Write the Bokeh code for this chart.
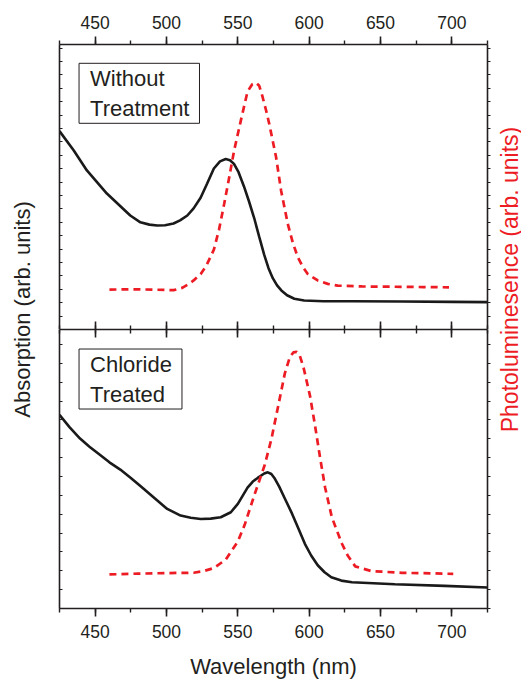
import math
from bokeh.plotting import figure
from bokeh.layouts import row, column
from bokeh.models import Range1d, LinearAxis, SingleIntervalTicker, Label
from bokeh.embed import file_html
from bokeh.resources import INLINE

# ---------------- data ----------------
# Top panel: Without Treatment
abs_top_nm = [425, 435, 444.2, 458.2, 474.6, 481.7, 488, 493.5, 499, 504.9, 509.5, 514.6, 519, 523.9,
              528.5, 533.2, 537.5, 541.5, 544.5, 547.3, 550.5, 554.3, 557.8, 561.4, 565, 568.5, 571.5,
              574.5, 577.5, 580.5, 584.5, 589.6, 596.5, 610, 630, 665, 700, 725]
abs_top_val = [0.696, 0.628, 0.558, 0.477, 0.400, 0.376, 0.368, 0.365, 0.366, 0.372, 0.383, 0.400, 0.425, 0.462,
               0.512, 0.565, 0.590, 0.598, 0.594, 0.581, 0.552, 0.502, 0.450, 0.392, 0.325, 0.262, 0.215,
               0.180, 0.155, 0.137, 0.120, 0.108, 0.102, 0.099, 0.099, 0.098, 0.097, 0.096]
pl_top_nm = [460, 475, 490, 505, 511, 515, 519, 524, 528, 533.2, 536.8, 540.4, 544, 547.4, 552.1, 556.8,
             560, 562.7, 565, 567.4, 570, 572, 576.8, 580.3, 585, 588.5, 592, 595.5, 599, 606, 613, 620,
             637, 660, 680, 698]
pl_top_val = [0.140, 0.141, 0.140, 0.138, 0.146, 0.158, 0.172, 0.195, 0.225, 0.280, 0.350, 0.440, 0.535,
              0.628, 0.733, 0.835, 0.860, 0.866, 0.855, 0.815, 0.765, 0.722, 0.605, 0.488, 0.371, 0.305,
              0.254, 0.220, 0.195, 0.172, 0.160, 0.154, 0.151, 0.150, 0.149, 0.148]

# Bottom panel: Chloride Treated
abs_bot_nm = [425, 432, 439.4, 446, 453.5, 460, 467.6, 475, 481.7, 491.1, 500.5, 509.9, 517, 524, 531,
              538, 545.1, 550, 556.8, 560.5, 563.9, 568.5, 571, 573.5, 575.6, 579, 582.6, 588, 592, 597,
              601.4, 606, 610.8, 615.5, 622.5, 630, 660, 695, 725]
abs_bot_val = [0.694, 0.650, 0.609, 0.580, 0.550, 0.524, 0.498, 0.468, 0.439, 0.398, 0.357, 0.333, 0.325,
               0.321, 0.322, 0.327, 0.345, 0.375, 0.433, 0.455, 0.468, 0.484, 0.488, 0.482, 0.468, 0.437,
               0.398, 0.340, 0.292, 0.232, 0.190, 0.155, 0.130, 0.112, 0.100, 0.094, 0.087, 0.081, 0.075]
pl_bot_nm = [460, 480, 500, 519, 526, 533.1, 541.5, 545.4, 550, 554.8, 561.8, 568.9, 573.6, 578.3, 583,
             586.5, 589, 591.2, 593.5, 595.9, 600.6, 604.1, 607.7, 611.2, 615.9, 622.9, 627, 632.3,
             643.7, 665, 685, 701]
pl_bot_val = [0.122, 0.125, 0.127, 0.128, 0.134, 0.145, 0.175, 0.205, 0.240, 0.300, 0.410, 0.515, 0.609,
              0.726, 0.844, 0.902, 0.918, 0.920, 0.905, 0.867, 0.762, 0.656, 0.539, 0.433, 0.327, 0.233,
              0.190, 0.151, 0.134, 0.128, 0.126, 0.124]

x_ticks_interval = 50
panel_titles = ["Without\nTreatment", "Chloride\nTreated"]
x_label = "Wavelength (nm)"
left_label = "Absorption (arb. units)"
right_label = "Photoluminesence (arb. units)"

# ---------------- style ----------------
FONT = "Liberation Sans"
INK = "#231f20"
RED = "#ed1c24"
LEFT_W = 40
RIGHT_W = 30
MAIN_W = 521 - LEFT_W - RIGHT_W   # 451

xr = Range1d(425, 725)


def hide_labels(ax):
    ax.major_label_text_font_size = "0px"
    ax.major_label_text_color = None
    ax.major_label_standoff = 0


def x_axis(labels, tick_in, tick_out, minor_in, minor_out):
    ax = LinearAxis(ticker=SingleIntervalTicker(interval=x_ticks_interval, num_minor_ticks=2))
    ax.axis_line_color = INK
    ax.axis_line_width = 1.6
    ax.major_tick_line_color = INK
    ax.major_tick_line_width = 1.6
    ax.minor_tick_line_color = INK
    ax.minor_tick_line_width = 1.4
    ax.major_tick_in = tick_in
    ax.major_tick_out = tick_out
    ax.minor_tick_in = minor_in
    ax.minor_tick_out = minor_out
    if labels:
        ax.major_label_text_font = FONT
        ax.major_label_text_font_size = "17.5px"
        ax.major_label_text_color = INK
        ax.major_label_standoff = 8
    else:
        hide_labels(ax)
    return ax


def y_axis(interval, side, range_name="default"):
    ax = LinearAxis(ticker=SingleIntervalTicker(interval=interval, num_minor_ticks=0),
                    y_range_name=range_name)
    ax.axis_line_color = INK
    ax.axis_line_width = 1.6
    ax.major_tick_line_color = INK
    ax.major_tick_line_width = 1.2
    ax.minor_tick_line_color = None
    if side == "left":
        ax.major_tick_in = 3
        ax.major_tick_out = 0
    else:
        ax.major_tick_in = 0
        ax.major_tick_out = 3
    hide_labels(ax)
    return ax


def panel(height, top_border, bottom_border, abs_x, abs_y, pl_x, pl_y, tick_interval, title,
          title_x, title_y, top_labels, bottom_labels):
    p = figure(width=MAIN_W, height=height, x_range=xr, y_range=Range1d(0, 1),
               output_backend="svg", toolbar_location=None,
               x_axis_location=None, y_axis_location=None,
               min_border_left=19, min_border_right=4,
               min_border_top=top_border, min_border_bottom=bottom_border)
    p.extra_y_ranges = {"pl": Range1d(0, 1)}
    p.outline_line_color = None
    p.grid.grid_line_color = None
    p.background_fill_color = "white"
    p.border_fill_color = "white"

    if top_labels:
        p.add_layout(x_axis(True, 0, 8, 0, 4), "above")
    else:
        p.add_layout(x_axis(False, 8, 0, 4, 0), "above")
    if bottom_labels:
        bx = x_axis(True, 0, 8, 0, 4)
        bx.axis_label = x_label
        bx.axis_label_text_font = FONT
        bx.axis_label_text_font_size = "22px"
        bx.axis_label_text_font_style = "normal"
        bx.axis_label_text_color = INK
        bx.axis_label_standoff = 13
        p.add_layout(bx, "below")
    else:
        p.add_layout(x_axis(False, 8, 0, 4, 0), "below")
    p.add_layout(y_axis(tick_interval, "left"), "left")
    p.add_layout(y_axis(tick_interval, "right", "pl"), "right")

    p.line(abs_x, abs_y, line_color="#1a1a1a", line_width=2.6)
    p.line(pl_x, pl_y, line_color=RED, line_width=2.7, line_dash="7 5", y_range_name="pl")

    lab = Label(x=title_x, y=title_y, text=title, text_font=FONT, text_font_size="22px",
                text_color=INK, text_align="left", text_baseline="top",
                border_line_color=INK, border_line_width=1, background_fill_color="white",
                padding=dict(left=11, right=10, top=3, bottom=2))
    p.add_layout(lab)
    return p


top = panel(329, 44, 0, abs_top_nm, abs_top_val, pl_top_nm, pl_top_val, 0.047,
            panel_titles[0], 438.7, 0.934, True, False)
bot = panel(352, 0, 68, abs_bot_nm, abs_bot_val, pl_bot_nm, pl_bot_val, 0.0676,
            panel_titles[1], 438.7, 0.930, False, True)


def label_fig(width, text, color, fx, fy, size):
    f = figure(width=width, height=681, x_range=Range1d(0, 1), y_range=Range1d(0, 1),
               output_backend="svg", toolbar_location=None,
               x_axis_location=None, y_axis_location=None, min_border=0)
    f.outline_line_color = None
    f.grid.grid_line_color = None
    f.add_layout(Label(x=fx, y=fy, text=text, angle=math.pi / 2, text_align="center",
                       text_baseline="middle", text_font=FONT, text_font_size=size,
                       text_color=color))
    return f


leftf = label_fig(LEFT_W, left_label, INK, 0.56, 1 - 309 / 681, "22px")
rightf = label_fig(RIGHT_W, right_label, RED, 0.6, 1 - 279 / 681, "23px")

layout = row(leftf, column(top, bot, spacing=0), rightf, spacing=0)

open("out.html", "w").write(file_html(layout, INLINE))
